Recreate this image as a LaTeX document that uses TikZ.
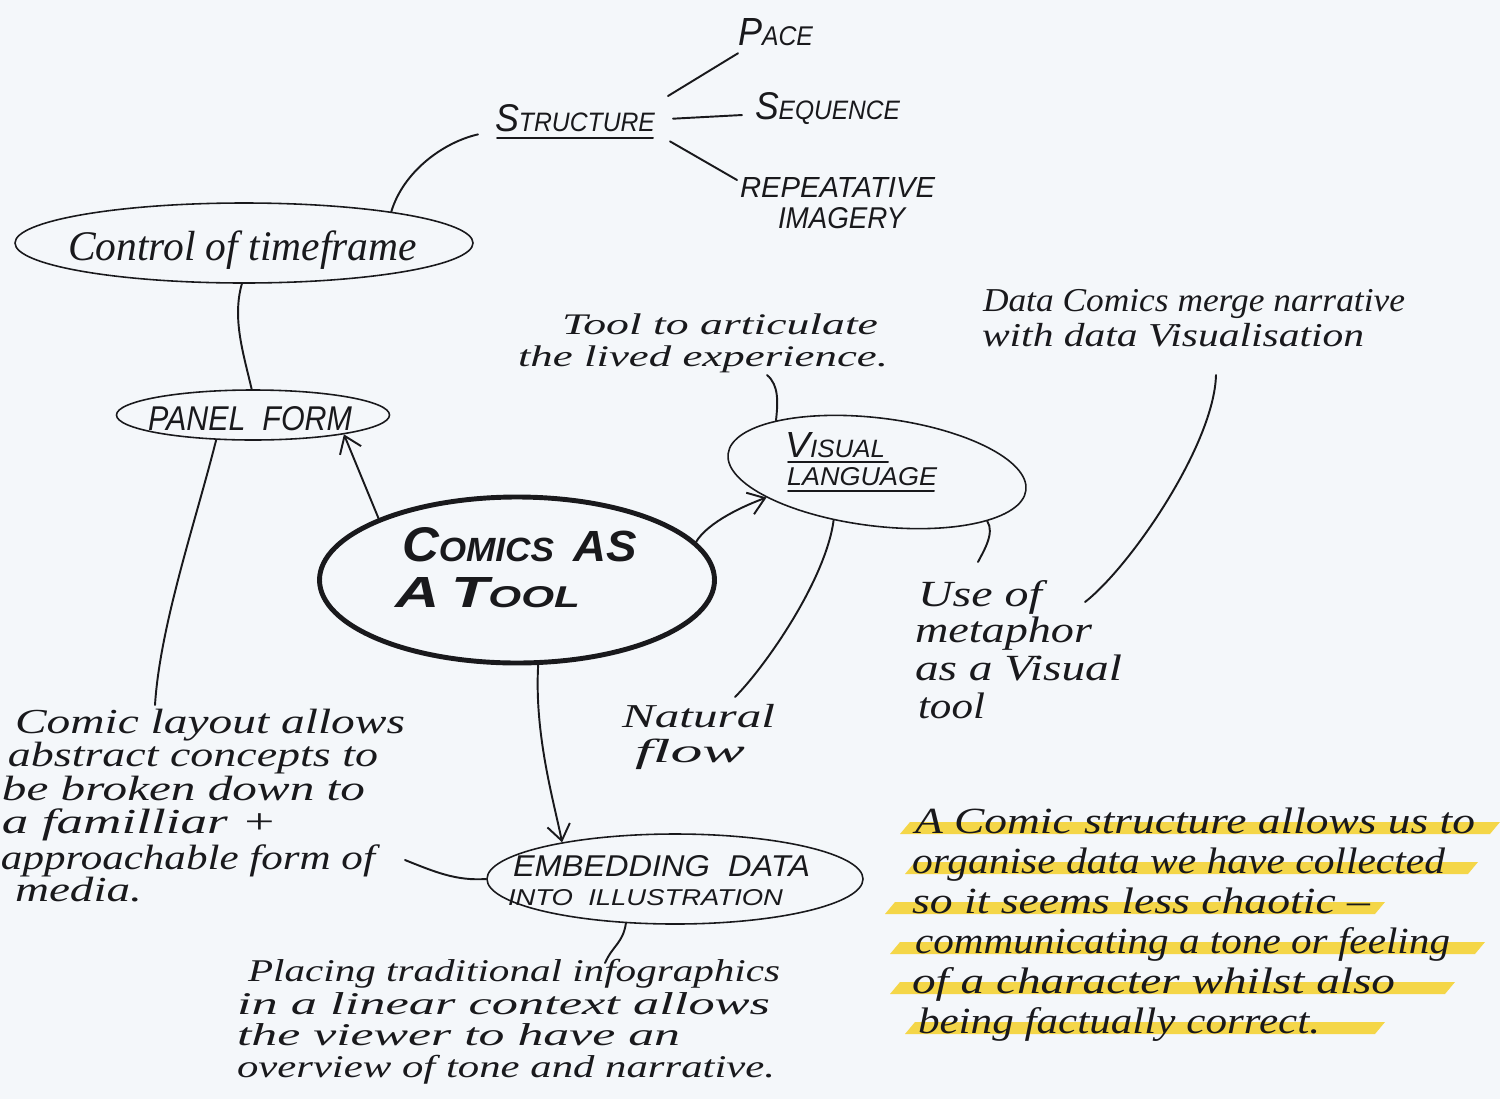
\documentclass[tikz,border=0pt]{standalone}
\usepackage{graphicx}
\usepackage{fontspec}
\setmainfont{Liberation Serif}
\newfontfamily\capfont{Liberation Sans}
\usetikzlibrary{arrows.meta,shapes.geometric}
\newdimen\px \px=0.02cm
\definecolor{bg}{RGB}{244,247,250}
\definecolor{ink}{RGB}{25,25,28}
\definecolor{hiyellow}{RGB}{244,214,72}
% handwriting line: fixed font size #1 (pt), stretched horizontally to width #2 (px)
\newcommand\hw[3]{\resizebox{#2\px}{\height}{\fontsize{#1}{#1}\selectfont\itshape #3}}
\newcommand\hc[3]{\resizebox{#1\px}{#2\px}{\capfont\itshape #3}}
\newcommand\capbig[1]{\scalebox{1.45}{#1}}
\newcommand\hiband[3]{\fill[hiyellow] (#1,#3+6) -- (#1+10,#3-6) -- (#2,#3-6) -- (#2-10,#3+6) -- cycle;}
\begin{document}
\begin{tikzpicture}[x=0.02cm,y=-0.02cm,
  txt/.style={anchor=base west, inner sep=0pt, outer sep=0pt, text=ink},
  oval/.style={ellipse, draw=ink, line width=0.9pt, inner sep=0pt},
  conn/.style={draw=ink, line width=1.1pt, line cap=round},
  arr/.style={conn, -{Straight Barb[length=9pt,width=13pt]}},
  uline/.style={draw=ink, line width=1.1pt, line cap=round}]
\useasboundingbox (0,0) rectangle (1500,1099);
\fill[bg] (0,0) rectangle (1500,1099);

% highlight bands
\hiband{900}{1500}{828}
\hiband{905}{1478}{868}
\hiband{885}{1385}{908}
\hiband{890}{1485}{948}
\hiband{890}{1455}{988}
\hiband{905}{1385}{1028}

% ellipses
\node[oval, minimum width=458\px, minimum height=80\px] (ctl) at (244,243) {};
\node[oval, minimum width=273\px, minimum height=50\px] (panel) at (253,415) {};
\node[oval, line width=2.8pt, minimum width=395\px, minimum height=166\px] (comics) at (517,580) {};
\node[oval, rotate=-7, minimum width=300\px, minimum height=108\px] (vl) at (877,472) {};
\node[oval, minimum width=376\px, minimum height=90\px] (embed) at (675,879) {};

% caps labels
\node[txt] (pace) at (738,45) {\hc{75}{27}{\capbig{P}ACE}};
\node[txt] (seq) at (755,119) {\hc{145}{27}{\capbig{S}EQUENCE}};
\node[txt] (struct) at (495,131) {\hc{160}{27}{\capbig{S}TRUCTURE}};
\node[txt] (rep1) at (740,197) {\hc{195}{20}{REPEATATIVE}};
\node[txt] (rep2) at (778,228) {\hc{127}{21}{IMAGERY}};
\node[txt] (paneltxt) at (148,430) {\hc{204}{24}{PANEL\ \ FORM}};
\node[txt] (vl1) at (785,457) {\hc{100}{25}{\capbig{V}ISUAL}};
\node[txt] (vl2) at (787,485) {\hc{150}{18}{LANGUAGE}};
\node[txt] (comics1) at (402,561) {\hc{235}{34}{\bfseries\capbig{C}OMICS\ \ \scalebox{1.3}{AS}}};
\node[txt] (comics2) at (395,607) {\hc{185}{30}{\bfseries\capbig{A}\ \capbig{T}OOL}};
\node[txt] (emb1) at (513,876) {\hc{297}{21}{EMBEDDING\ \ DATA}};
\node[txt] (emb2) at (508,905) {\hc{275}{16}{INTO\ \ ILLUSTRATION}};

% underlines
\draw[uline] ([xshift=2\px,yshift=-7\px]struct.south west) -- ([xshift=-2\px,yshift=-7\px]struct.south east);
\draw[uline] ([xshift=3\px,yshift=-5\px]vl1.south west) -- ([xshift=3\px,yshift=-5\px]vl1.south east);
\draw[uline] ([xshift=1\px,yshift=-6\px]vl2.south west) -- ([xshift=-3\px,yshift=-6\px]vl2.south east);

% cursive labels
\node[txt] (ctltxt) at (68,260) {\hw{24}{349}{Control of timeframe}};

\node[txt] (tool1) at (562,334) {\hw{17}{316}{Tool to articulate}};
\node[txt] (tool2) at (518,366) {\hw{17}{370}{the lived experience.}};

\node[txt] (dc1) at (983,311) {\hw{19}{422}{Data Comics merge narrative}};
\node[txt] (dc2) at (982,346) {\hw{19}{382}{with data Visualisation}};

\node[txt] (use1) at (918,606) {\hw{21}{124}{Use of}};
\node[txt] (use2) at (915,642) {\hw{21}{177}{metaphor}};
\node[txt] (use3) at (915,680) {\hw{21}{207}{as a Visual}};
\node[txt] (use4) at (918,718) {\hw{21}{67}{tool}};

\node[txt] (nat1) at (622,727) {\hw{19}{153}{Natural}};
\node[txt] (nat2) at (635,762) {\hw{19}{110}{flow}};

\node[txt] (lay1) at (15,733) {\hw{20}{390}{Comic layout allows}};
\node[txt] (lay2) at (8,766) {\hw{20}{370}{abstract concepts to}};
\node[txt] (lay3) at (2,800) {\hw{20}{363}{be broken down to}};
\node[txt] (lay4) at (2,833) {\hw{20}{275}{a familliar +}};
\node[txt] (lay5) at (1,869) {\hw{20}{374}{approachable form of}};
\node[txt] (lay6) at (15,901) {\hw{20}{127}{media.}};

\node[txt] (pl1) at (248,981) {\hw{18}{532}{Placing traditional infographics}};
\node[txt] (pl2) at (237,1014) {\hw{18}{533}{in a linear context allows}};
\node[txt] (pl3) at (237,1045) {\hw{18}{443}{the viewer to have an}};
\node[txt] (pl4) at (237,1077) {\hw{18}{538}{overview of tone and narrative.}};

\node[txt] (hl1) at (915,833) {\hw{21}{560}{A Comic structure allows us to}};
\node[txt] (hl2) at (912,873) {\hw{21}{533}{organise data we have collected}};
\node[txt] (hl3) at (912,913) {\hw{21}{458}{so it seems less chaotic –}};
\node[txt] (hl4) at (915,953) {\hw{21}{535}{communicating a tone or feeling}};
\node[txt] (hl5) at (912,993) {\hw{21}{483}{of a character whilst also}};
\node[txt] (hl6) at (918,1033) {\hw{21}{402}{being factually correct.}};

% free ends
\coordinate (layTop) at (155,705);
\coordinate (toolEnd) at (767,375);
\coordinate (natTop) at (735,697);
\coordinate (useTop) at (978,562);
\coordinate (dcEnd) at (1216,375);
\coordinate (useRight) at (1085,602);
\coordinate (layRight) at (405,860);
\coordinate (placeTop) at (605,963);

% connectors
\draw[conn] ([xshift=13\px,yshift=8\px]struct.north east) -- ([yshift=-8\px]pace.south west);
\draw[conn] ([xshift=18\px,yshift=-1\px]struct.east) -- ([xshift=-13\px,yshift=-7\px]seq.west);
\draw[conn] ([xshift=15\px,yshift=-10\px]struct.south east) -- ([xshift=-3\px,yshift=-3\px]rep1.north west);
\draw[conn] (ctl.12) .. controls +(12,-40) and +(-35,8) .. ([xshift=-17\px,yshift=-3\px]struct.south west);
\draw[conn] (ctl.-93) .. controls +(-10,35) and +(-8,-35) .. (panel.93);
\draw[arr] (comics.156) -- (panel.-12);
\draw[conn] (panel.-146) .. controls +(-20,80) and +(5,-80) .. (layTop);
\draw[arr] (comics.12) .. controls +(12,-20) and +(-22,8) .. (vl.200);
\draw[conn] (toolEnd) .. controls +(12,10) and +(2,-18) .. (vl.160);
\draw[conn] (vl.-125) .. controls +(-8,60) and +(30,-30) .. (natTop);
\draw[conn] (vl.-17) .. controls +(8,12) and +(5,-10) .. (useTop);
\draw[conn] (dcEnd) .. controls +(-2,70) and +(45,-35) .. (useRight);
\draw[arr] (comics.-76) .. controls +(-4,70) and +(-8,-40) .. (embed.162);
\draw[conn] (embed.west) .. controls +(-30,2) and +(30,12) .. (layRight);
\draw[conn] (embed.-138) .. controls +(-3,20) and +(8,-18) .. (placeTop);
\end{tikzpicture}
\end{document}
